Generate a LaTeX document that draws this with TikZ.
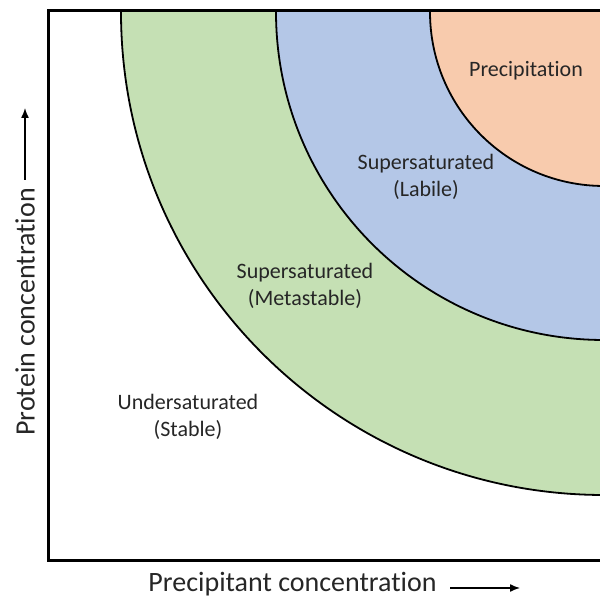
\documentclass[tikz,border=0pt]{standalone}
\usepackage{fontspec}
\setmainfont[RawFeature={-liga}]{Carlito}
\usetikzlibrary{arrows.meta}
\definecolor{metagreen}{HTML}{C5E0B4}
\definecolor{labblue}{HTML}{B4C7E7}
\definecolor{precorange}{HTML}{F8CBAD}
\definecolor{txt}{HTML}{262626}
\begin{document}
\begin{tikzpicture}[x=0.5pt,y=-0.5pt,
  region/.style={align=center,text=txt,font=\fontsize{11}{13.5}\selectfont,inner sep=0pt},
  axislabel/.style={text=txt,font=\fontsize{14}{16}\selectfont,inner sep=0pt},
  arc/.style={draw=black,line width=0.9pt},
  frameline/.style={draw=black,line width=1.5pt},
  axisarrow/.style={draw=black,line width=0.7pt,-{Latex[length=5pt,width=4pt]}}]
\useasboundingbox (0,0) rectangle (600,597);
\coordinate (c) at (604,12);
\begin{scope}
  \clip (48,12) rectangle (600,561);
  \fill[metagreen] (c) circle[radius=483];
  \fill[labblue] (c) circle[radius=328];
  \fill[precorange] (c) circle[radius=174];
  \draw[arc] (c) circle[radius=483];
  \draw[arc] (c) circle[radius=328];
  \draw[arc] (c) circle[radius=174];
\end{scope}
\draw[frameline] (602,11) -- (48.5,11) -- (48.5,561) -- (602,561);
\node[region] (prec) at (526,71) {Precipitation};
\node[region] (lab) at (426,177) {Supersaturated\\(Labile)};
\node[region] (meta) at (305,286) {Supersaturated\\(Metastable)};
\node[region] (und) at (188,417) {Undersaturated\\(Stable)};
\node[axislabel,anchor=east] (xlab) at (437,584) {Precipitant concentration};
\coordinate (xa1) at (450,588);
\coordinate (xa2) at (520,588);
\draw[axisarrow] (xa1) -- (xa2);
\node[axislabel,rotate=90,anchor=west] (ylab) at (25,436) {Protein concentration};
\coordinate (ya1) at (25,180);
\coordinate (ya2) at (25,108);
\draw[axisarrow] (ya1) -- (ya2);
\end{tikzpicture}
\end{document}
